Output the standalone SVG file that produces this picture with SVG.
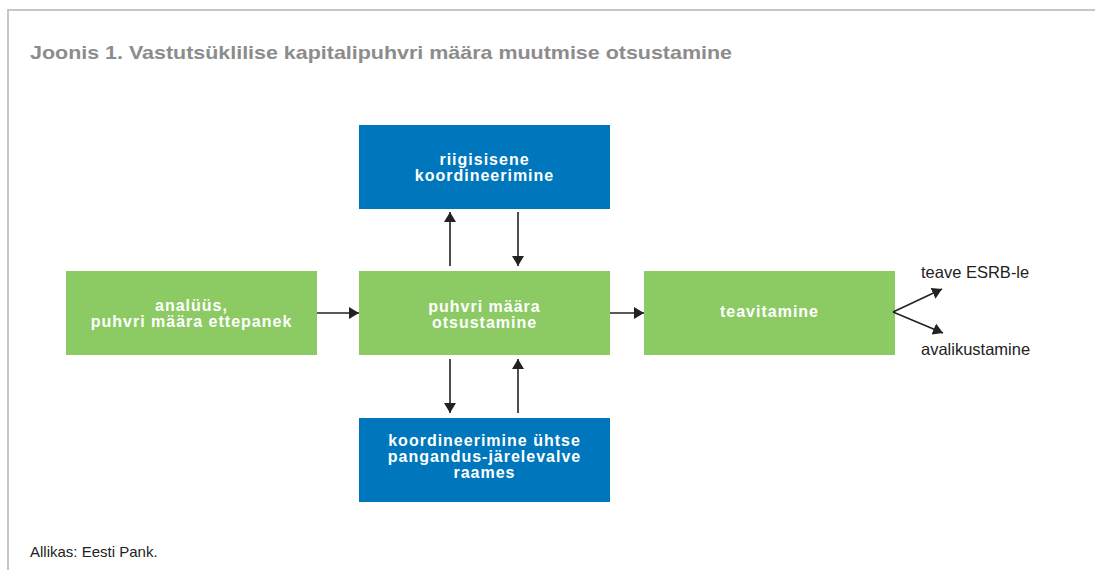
<svg xmlns="http://www.w3.org/2000/svg" width="1095" height="570" viewBox="0 0 1095 570">
<style>
.frame{stroke:#c6c6c6;stroke-width:2;fill:none}
.title{font-family:"Liberation Sans",Arial,sans-serif;font-weight:bold;font-size:19px;fill:#8c8c8c}
.green{fill:#8ccb63}
.blue{fill:#0077bc}
.lbl{font-family:"Liberation Sans",Arial,sans-serif;font-weight:bold;font-size:16px;letter-spacing:1px;fill:#ffffff;text-anchor:middle}
.side{font-family:"Liberation Sans",Arial,sans-serif;font-size:16.5px;fill:#222}
.src{font-family:"Liberation Sans",Arial,sans-serif;font-size:15px;fill:#222}
.conn{stroke:#222;stroke-width:1.6;fill:none;marker-end:url(#ah)}
</style>
<defs>
<marker id="ah" markerUnits="userSpaceOnUse" markerWidth="11" markerHeight="12" refX="10" refY="6" orient="auto" viewBox="0 0 11 12">
<path d="M0,0 L10,6 L0,12 z" fill="#222"/>
</marker>
</defs>
<rect width="1095" height="570" fill="#ffffff"/>
<path class="frame" d="M8,570 L8,10 L1095,10"/>
<text class="title" x="30" y="59" textLength="702" lengthAdjust="spacingAndGlyphs">Joonis 1. Vastutsüklilise kapitalipuhvri määra muutmise otsustamine</text>

<g id="node-analyys">
<rect class="green" x="66" y="271" width="251" height="84"/>
<text class="lbl" x="191.5" y="311">analüüs,</text>
<text class="lbl" x="191.5" y="327">puhvri määra ettepanek</text>
</g>
<g id="node-otsustamine">
<rect class="green" x="359" y="271" width="251" height="84"/>
<text class="lbl" x="484.5" y="312">puhvri määra</text>
<text class="lbl" x="484.5" y="328">otsustamine</text>
</g>
<g id="node-riigisisene">
<rect class="blue" x="359" y="125" width="251" height="84"/>
<text class="lbl" x="484.5" y="164.5">riigisisene</text>
<text class="lbl" x="484.5" y="180.5">koordineerimine</text>
</g>
<g id="node-yhtne">
<rect class="blue" x="359" y="418" width="251" height="84"/>
<text class="lbl" x="484.5" y="445.5">koordineerimine ühtse</text>
<text class="lbl" x="484.5" y="461.5">pangandus-järelevalve</text>
<text class="lbl" x="484.5" y="477.5">raames</text>
</g>
<g id="node-teavitamine">
<rect class="green" x="644" y="271" width="251" height="84"/>
<text class="lbl" x="769.5" y="317">teavitamine</text>
</g>
<g id="node-esrb">
<text class="side" x="921" y="278">teave ESRB-le</text>
</g>
<g id="node-avalik">
<text class="side" x="921" y="355">avalikustamine</text>
</g>

<g id="connectors">
<line class="conn" x1="317" y1="313" x2="359" y2="313"/>
<line class="conn" x1="610" y1="313" x2="644" y2="313"/>
<line class="conn" x1="450" y1="266" x2="450" y2="212"/>
<line class="conn" x1="518" y1="212" x2="518" y2="266"/>
<line class="conn" x1="450" y1="359" x2="450" y2="413"/>
<line class="conn" x1="518" y1="413" x2="518" y2="359"/>
<line class="conn" x1="893" y1="312" x2="942" y2="289"/>
<line class="conn" x1="893" y1="312" x2="943" y2="333"/>
</g>

<text class="src" x="30" y="557">Allikas: Eesti Pank.</text>
</svg>
